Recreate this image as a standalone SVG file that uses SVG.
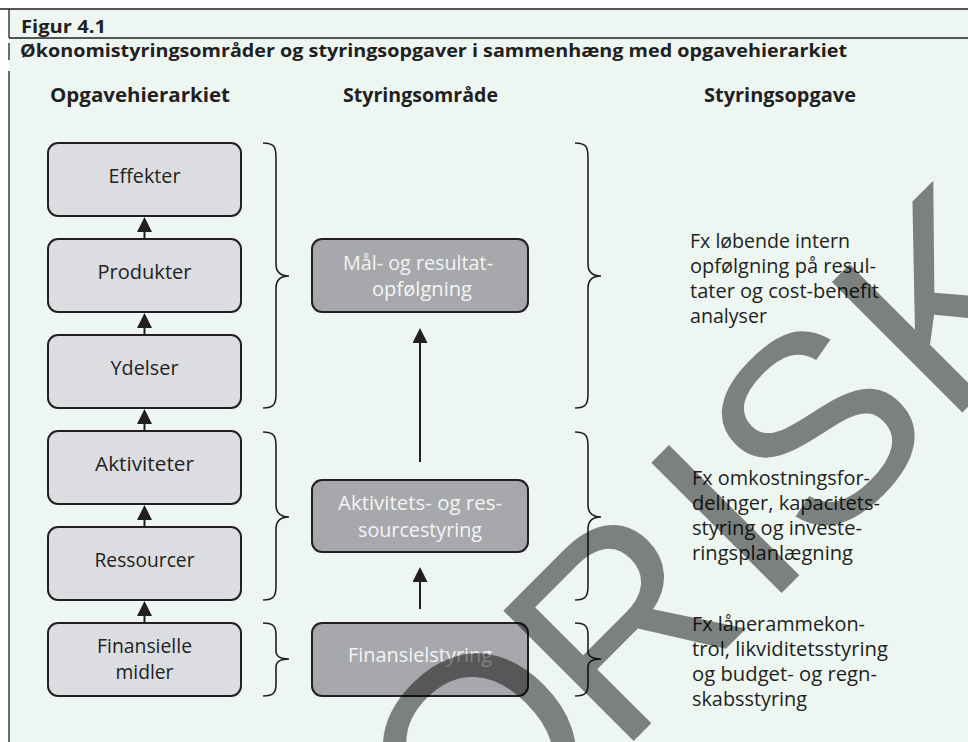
<svg xmlns="http://www.w3.org/2000/svg" width="968" height="742" viewBox="0 0 968 742">
<defs>
<style>
.bg{fill:#eef6f2}
.frame{stroke:#231f20;stroke-width:1.3;fill:none}
.hd{font-family:"Open Sans","Liberation Sans",sans-serif;font-weight:bold;fill:#231f20}
.bl{fill:#dcdde0;stroke:#231f20;stroke-width:2}
.bd{fill:#a7a8ab;stroke:#231f20;stroke-width:2}
.tl{font-family:"Open Sans","Liberation Sans",sans-serif;font-size:20px;fill:#231f20;text-anchor:middle}
.tw{font-family:"Open Sans","Liberation Sans",sans-serif;font-size:20px;fill:#f4f4f4;text-anchor:middle}
.tr{font-family:"Open Sans","Liberation Sans",sans-serif;font-size:20px;fill:#231f20}
.con{stroke:#231f20;stroke-width:2;fill:none}
.br{stroke:#231f20;stroke-width:1.6;fill:none}
.wm{font-family:"Liberation Sans",Arial,sans-serif;font-size:268px;fill:#000;fill-opacity:0.48}
</style>
<marker id="ah" viewBox="0 0 15 15" refX="11" refY="7.5" markerWidth="15" markerHeight="15" markerUnits="userSpaceOnUse" orient="auto">
<path d="M0,0 L15,7.5 L0,15 z" fill="#231f20"/>
</marker>
</defs>
<rect x="0" y="0" width="968" height="742" fill="#ffffff"/>
<rect class="bg" x="9" y="9" width="959" height="733"/>
<g id="frame">
<line class="frame" x1="0" y1="9" x2="968" y2="9"/>
<line class="frame" x1="9" y1="38" x2="968" y2="38"/>
<line class="frame" x1="9" y1="9" x2="9" y2="38"/>
<line class="frame" x1="9" y1="43" x2="9" y2="60"/>
<line class="frame" x1="9" y1="71" x2="9" y2="742"/>
</g>
<g id="titles">
<text class="hd" x="21" y="33" font-size="18" textLength="85" lengthAdjust="spacingAndGlyphs">Figur 4.1</text>
<text class="hd" x="20" y="57" font-size="18" textLength="827" lengthAdjust="spacingAndGlyphs">Økonomistyringsområder og styringsopgaver i sammenhæng med opgavehierarkiet</text>
<text class="hd" x="50" y="102" font-size="19" textLength="180" lengthAdjust="spacingAndGlyphs">Opgavehierarkiet</text>
<text class="hd" x="343" y="102" font-size="19" textLength="155" lengthAdjust="spacingAndGlyphs">Styringsområde</text>
<text class="hd" x="704" y="102" font-size="19" textLength="152" lengthAdjust="spacingAndGlyphs">Styringsopgave</text>
</g>
<g id="connectors">
<line class="con" x1="144.5" y1="239" x2="144.5" y2="221" marker-end="url(#ah)"/>
<line class="con" x1="144.5" y1="335" x2="144.5" y2="317" marker-end="url(#ah)"/>
<line class="con" x1="144.5" y1="431" x2="144.5" y2="413" marker-end="url(#ah)"/>
<line class="con" x1="144.5" y1="527" x2="144.5" y2="509" marker-end="url(#ah)"/>
<line class="con" x1="144.5" y1="623" x2="144.5" y2="605" marker-end="url(#ah)"/>
<line class="con" x1="420" y1="462" x2="420" y2="332" marker-end="url(#ah)"/>
<line class="con" x1="420" y1="609" x2="420" y2="571" marker-end="url(#ah)"/>
<path class="br" d="M263,143 C274,143 276,147 276,157 L276,264 C276,272 280,276 289,276 C280,276 276,280 276,288 L276,394 C276,404 274,408 263,408"/>
<path class="br" d="M263,432 C274,432 276,436 276,446 L276,505 C276,513 280,517 289,517 C280,517 276,521 276,529 L276,586 C276,596 274,600 263,600"/>
<path class="br" d="M263,623 C274,623 276,627 276,635 L276,651 C276,656 280,659 289,659 C280,659 276,662 276,667 L276,684 C276,692 274,696 263,696"/>
<path class="br" d="M575,143 C586,143 588,147 588,157 L588,264 C588,272 592,276 601,276 C592,276 588,280 588,288 L588,394 C588,404 586,408 575,408"/>
<path class="br" d="M575,432 C586,432 588,436 588,446 L588,505 C588,513 592,517 601,517 C592,517 588,521 588,529 L588,586 C588,596 586,600 575,600"/>
<path class="br" d="M575,623 C586,623 588,627 588,635 L588,651 C588,656 592,659 601,659 C592,659 588,662 588,667 L588,684 C588,692 586,696 575,696"/>
</g>
<g id="n-effekter">
<rect class="bl" x="48" y="143" width="193" height="73" rx="10"/>
<text class="tl" x="144.5" y="183" textLength="72" lengthAdjust="spacingAndGlyphs">Effekter</text>
</g>
<g id="n-produkter">
<rect class="bl" x="48" y="239" width="193" height="73" rx="10"/>
<text class="tl" x="144.5" y="279" textLength="94" lengthAdjust="spacingAndGlyphs">Produkter</text>
</g>
<g id="n-ydelser">
<rect class="bl" x="48" y="335" width="193" height="73" rx="10"/>
<text class="tl" x="144.5" y="375" textLength="68" lengthAdjust="spacingAndGlyphs">Ydelser</text>
</g>
<g id="n-aktiviteter">
<rect class="bl" x="48" y="431" width="193" height="73" rx="10"/>
<text class="tl" x="144.5" y="471" textLength="99" lengthAdjust="spacingAndGlyphs">Aktiviteter</text>
</g>
<g id="n-ressourcer">
<rect class="bl" x="48" y="527" width="193" height="73" rx="10"/>
<text class="tl" x="144.5" y="567" textLength="100" lengthAdjust="spacingAndGlyphs">Ressourcer</text>
</g>
<g id="n-finansielle">
<rect class="bl" x="48" y="623" width="193" height="73" rx="10"/>
<text class="tl" x="144.5" y="653" textLength="95" lengthAdjust="spacingAndGlyphs">Finansielle</text>
<text class="tl" x="144.5" y="679" textLength="58" lengthAdjust="spacingAndGlyphs">midler</text>
</g>
<g id="n-maal">
<rect class="bd" x="312" y="239" width="216" height="73" rx="10"/>
<text class="tw" x="418" y="270" textLength="150" lengthAdjust="spacingAndGlyphs">Mål- og resultat-</text>
<text class="tw" x="422" y="296" textLength="100" lengthAdjust="spacingAndGlyphs">opfølgning</text>
</g>
<g id="n-aktivitets">
<rect class="bd" x="312" y="480" width="216" height="72" rx="10"/>
<text class="tw" x="420" y="510" textLength="164" lengthAdjust="spacingAndGlyphs">Aktivitets- og res-</text>
<text class="tw" x="420" y="537" textLength="124" lengthAdjust="spacingAndGlyphs">sourcestyring</text>
</g>
<g id="n-finansielstyring">
<rect class="bd" x="312" y="623" width="216" height="73" rx="10"/>
<text class="tw" x="420" y="662" textLength="144" lengthAdjust="spacingAndGlyphs">Finansielstyring</text>
</g>
<g id="t-opgave1">
<text class="tr" x="690" y="248" textLength="160" lengthAdjust="spacingAndGlyphs">Fx løbende intern</text>
<text class="tr" x="690" y="273" textLength="186" lengthAdjust="spacingAndGlyphs">opfølgning på resul-</text>
<text class="tr" x="690" y="298" textLength="189" lengthAdjust="spacingAndGlyphs">tater og cost-benefit</text>
<text class="tr" x="690" y="323" textLength="77" lengthAdjust="spacingAndGlyphs">analyser</text>
</g>
<g id="t-opgave2">
<text class="tr" x="692" y="485" textLength="178" lengthAdjust="spacingAndGlyphs">Fx omkostningsfor-</text>
<text class="tr" x="692" y="510" textLength="188" lengthAdjust="spacingAndGlyphs">delinger, kapacitets-</text>
<text class="tr" x="692" y="535" textLength="170" lengthAdjust="spacingAndGlyphs">styring og investe-</text>
<text class="tr" x="692" y="560" textLength="161" lengthAdjust="spacingAndGlyphs">ringsplanlægning</text>
</g>
<g id="t-opgave3">
<text class="tr" x="692" y="631" textLength="173" lengthAdjust="spacingAndGlyphs">Fx lånerammekon-</text>
<text class="tr" x="692" y="656" textLength="196" lengthAdjust="spacingAndGlyphs">trol, likviditetsstyring</text>
<text class="tr" x="692" y="681" textLength="185" lengthAdjust="spacingAndGlyphs">og budget- og regn-</text>
<text class="tr" x="692" y="706" textLength="115" lengthAdjust="spacingAndGlyphs">skabsstyring</text>
</g>
<g id="watermark">
<text class="wm" transform="translate(360.6,1014.1) rotate(-45)" dx="0 3 -11 13 2 3" dy="0 -10 10 0 0 0">FORISK</text>
</g>
</svg>
